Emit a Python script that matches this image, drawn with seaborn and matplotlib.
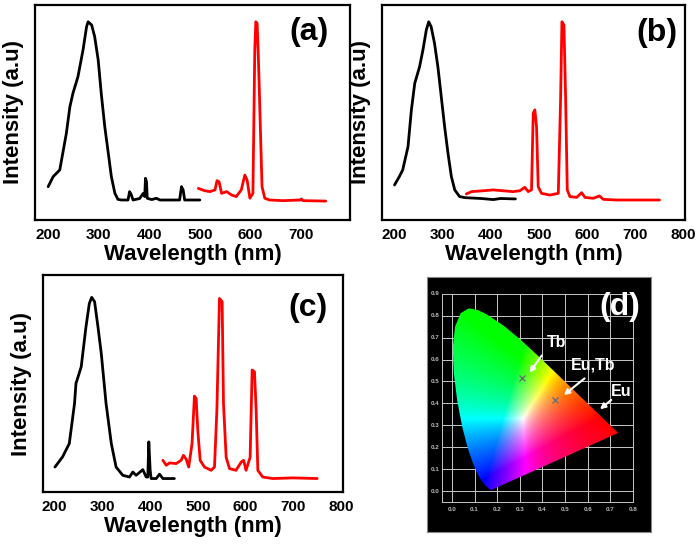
import numpy as np
import matplotlib
matplotlib.use("Agg")
import matplotlib.pyplot as plt
from matplotlib.patches import Polygon
import seaborn as sns

# ---- spectra (wavelength nm, intensity a.u.) ----
a_exc_wl = [200, 210, 223, 236, 243, 249, 259, 269, 276, 279, 286, 292, 299, 305, 312, 319, 325, 332, 338, 345,
            358, 361, 364, 368, 381, 388, 391, 392.5, 394.5, 396, 405, 414, 421, 460, 463.7, 467, 470, 500]
a_exc_int = [0.155, 0.202, 0.233, 0.403, 0.527, 0.589, 0.667, 0.791, 0.899, 0.922, 0.907, 0.853, 0.744, 0.589,
             0.434, 0.31, 0.202, 0.124, 0.096, 0.093,
             0.093, 0.132, 0.12, 0.093, 0.1, 0.124, 0.109, 0.194, 0.178, 0.101, 0.095, 0.101, 0.093, 0.093,
             0.155, 0.14, 0.093, 0.093]
a_em_wl = [497, 510, 520, 530, 534, 538, 543, 553, 563, 572, 582, 589, 593.5, 599, 605, 608.7, 610.7, 613.3,
           615.3, 617.3, 620, 623, 628.5, 638, 665, 698, 701, 704, 749]
a_em_int = [0.147, 0.136, 0.132, 0.14, 0.183, 0.178, 0.124, 0.132, 0.116, 0.109, 0.14, 0.209, 0.186, 0.101,
            0.124, 0.791, 0.922, 0.915, 0.791, 0.636, 0.403, 0.155, 0.101, 0.093, 0.09, 0.093, 0.098, 0.09, 0.088]

b_exc_wl = [200, 210, 217, 228, 235, 242, 245, 252, 259, 266, 271, 276, 283, 290, 297, 304, 311, 318, 325,
            335, 346, 380, 405, 420, 451]
b_exc_int = [0.163, 0.202, 0.233, 0.341, 0.512, 0.636, 0.659, 0.713, 0.791, 0.884, 0.922, 0.899, 0.822,
             0.713, 0.574, 0.434, 0.31, 0.202, 0.14, 0.109, 0.104, 0.1, 0.095, 0.1, 0.098]
b_em_wl = [349, 360, 384, 405, 425, 446, 460, 470.5, 477.5, 484.4, 487.9, 491.3, 494.8, 498.3, 505, 522.5,
           540, 544.7, 547.5, 551.7, 555.1, 558.6, 564, 578, 588.4, 595.4, 612.7, 625.2, 633.5, 661, 750]
b_em_int = [0.121, 0.132, 0.136, 0.14, 0.136, 0.132, 0.136, 0.152, 0.132, 0.14, 0.496, 0.512, 0.434, 0.155,
            0.124, 0.116, 0.124, 0.558, 0.922, 0.907, 0.574, 0.14, 0.109, 0.105, 0.127, 0.105, 0.101, 0.112,
            0.096, 0.093, 0.093]

c_exc_wl = [201, 217, 231, 242, 245, 256, 266, 273, 278, 284, 291, 298, 308, 319, 329, 343, 357, 364, 371,
            385, 392, 395.4, 397.5, 400.3, 402.4, 413, 420, 427, 451]
c_exc_int = [0.115, 0.162, 0.223, 0.408, 0.5, 0.577, 0.762, 0.869, 0.897, 0.877, 0.762, 0.638, 0.408, 0.223,
             0.115, 0.077, 0.069, 0.092, 0.077, 0.103, 0.069, 0.069, 0.231, 0.1, 0.062, 0.062, 0.082, 0.062,
             0.062]
c_em_wl = [427, 434, 441, 455, 465, 470, 476, 481, 488, 493, 496.6, 500, 505, 514, 528, 535, 540, 545.4, 551,
           553.8, 559.4, 566.4, 580, 591, 596, 601, 609.6, 613.8, 618.7, 622.2, 625.7, 636, 657, 699, 750]
c_em_int = [0.146, 0.123, 0.134, 0.131, 0.146, 0.169, 0.15, 0.115, 0.223, 0.442, 0.431, 0.285, 0.146, 0.115,
            0.1, 0.115, 0.377, 0.892, 0.877, 0.408, 0.16, 0.108, 0.1, 0.138, 0.146, 0.1, 0.16, 0.562, 0.554,
            0.377, 0.1, 0.069, 0.062, 0.065, 0.062]

# ---- CIE 1931 spectral locus (x, y) ----
locus_x = [0.1741, 0.1714, 0.1644, 0.1566, 0.1440, 0.1241, 0.1096, 0.0913, 0.0687, 0.0454, 0.0235, 0.0082,
           0.0039, 0.0139, 0.0389, 0.0743, 0.1142, 0.1547, 0.2296, 0.3016, 0.3731, 0.4441, 0.5125, 0.5752,
           0.6270, 0.6658, 0.6915, 0.7190, 0.7334, 0.7347]
locus_y = [0.0050, 0.0051, 0.0109, 0.0177, 0.0297, 0.0578, 0.0868, 0.1327, 0.2007, 0.2950, 0.4127, 0.5384,
           0.6548, 0.7502, 0.8120, 0.8338, 0.8262, 0.8059, 0.7543, 0.6923, 0.6245, 0.5547, 0.4866, 0.4242,
           0.3725, 0.3340, 0.3083, 0.2809, 0.2666, 0.2653]
points = {"Tb": (0.308, 0.515), "Eu,Tb": (0.456, 0.416)}
xticks_cie = [0.0, 0.1, 0.2, 0.3, 0.4, 0.5, 0.6, 0.7, 0.8]
yticks_cie = [0.0, 0.1, 0.2, 0.3, 0.4, 0.5, 0.6, 0.7, 0.8, 0.9]

sns.set_theme(style="white")
plt.rcParams["font.family"] = ["Liberation Sans", "DejaVu Sans"]
plt.rcParams["font.weight"] = "bold"
plt.rcParams["text.color"] = "black"
plt.rcParams["axes.labelcolor"] = "black"
plt.rcParams["xtick.color"] = "black"

fig = plt.figure(figsize=(7, 5.45), dpi=100)
W, H = 700, 545


def box(l, t, r, b):
    return [l / W, 1 - b / H, (r - l) / W, (b - t) / H]


panels = [
    (box(35, 5, 350, 220), a_exc_wl, a_exc_int, a_em_wl, a_em_int, "(a)", (0.87, 0.874), [200, 300, 400, 500, 600, 700], (174, 797)),
    (box(382, 5, 685, 220), b_exc_wl, b_exc_int, b_em_wl, b_em_int, "(b)", (0.907, 0.87), [200, 300, 400, 500, 600, 700, 800], (174, 803)),
    (box(43, 275, 343, 492), c_exc_wl, c_exc_int, c_em_wl, c_em_int, "(c)", (0.883, 0.848), [200, 300, 400, 500, 600, 700, 800], (176, 804)),
]

for rect, xw, yi, xe, ye, tag, tpos, ticks, xl in panels:
    ax = fig.add_axes(rect)
    sns.lineplot(x=xw, y=yi, ax=ax, color="black", lw=2, sort=False, estimator=None)
    sns.lineplot(x=xe, y=ye, ax=ax, color="#ff0000", lw=2, sort=False, estimator=None)
    ax.set_xlim(*xl)
    ax.set_ylim(0, 1)
    ax.set_xticks(ticks)
    ax.set_yticks([])
    ax.tick_params(axis="x", length=0, pad=6, labelsize=11, labelcolor="black")
    for lab in ax.get_xticklabels():
        lab.set_fontweight("bold")
    ax.set_xlabel("Wavelength (nm)", fontsize=16, fontweight="bold", labelpad=1, color="black")
    ax.set_ylabel("Intensity (a.u)", fontsize=16, fontweight="bold", labelpad=8, color="black")
    for s in ax.spines.values():
        s.set_linewidth(1.6)
        s.set_color("black")
    ax.text(tpos[0], tpos[1], tag, transform=ax.transAxes, fontsize=23, fontweight="bold",
            ha="center", va="center", color="black")

# ---- CIE chromaticity panel ----
axd = fig.add_axes(box(427, 277, 651, 532))
axd.set_facecolor("black")
axd.set_xlim(-0.11, 0.88)
axd.set_ylim(-0.187, 0.977)
axd.set_xticks([])
axd.set_yticks([])
for s in axd.spines.values():
    s.set_color("#888888")
    s.set_linewidth(0.8)

gx, gy = np.meshgrid(np.linspace(0.0, 0.8, 400), np.linspace(0.0, 0.9, 450))
gy_s = np.maximum(gy, 1e-3)
X = gx / gy_s
Y = np.ones_like(gx)
Z = (1 - gx - gy) / gy_s
R = 3.2406 * X - 1.5372 * Y - 0.4986 * Z
G = -0.9689 * X + 1.8758 * Y + 0.0415 * Z
B = 0.0557 * X - 0.2040 * Y + 1.0570 * Z
rgb = np.clip(np.dstack([R, G, B]), 0, None)
rgb = rgb / rgb.max(axis=2, keepdims=True)
rgb = rgb ** 0.8
img = axd.imshow(rgb, origin="lower", extent=[0, 0.8, 0, 0.9], aspect="auto", interpolation="bilinear", zorder=2)
horseshoe = Polygon(np.column_stack([locus_x, locus_y]), closed=True, transform=axd.transData,
                    facecolor="none", edgecolor="none")
axd.add_patch(horseshoe)
img.set_clip_path(horseshoe)

gc = "#c8c8c8"
for v in [-0.045] + xticks_cie:
    axd.plot([v, v], [-0.05, 0.9], color=gc, lw=0.7, zorder=1)
for v in [-0.05] + yticks_cie:
    axd.plot([-0.045, 0.8], [v, v], color=gc, lw=0.7, zorder=1)
for v in xticks_cie:
    axd.text(v, -0.085, f"{v:.1f}", color="#bbbbbb", fontsize=4.5, ha="center", va="center", fontweight="bold")
for v in yticks_cie:
    axd.text(-0.075, v, f"{v:.1f}", color="#bbbbbb", fontsize=4.5, ha="center", va="center", fontweight="bold")

for name, (px, py) in points.items():
    axd.plot(px, py, marker="x", color="#707070", ms=5, mew=1, zorder=4)

arrows = {"Tb": ((0.404, 0.629), (0.336, 0.53), (0.463, 0.68)),
          "Eu,Tb": ((0.596, 0.522), (0.485, 0.43), (0.624, 0.575)),
          "Eu": ((0.714, 0.424), (0.645, 0.365), (0.75, 0.453))}
for name, (tail, head, tp) in arrows.items():
    axd.annotate("", xy=head, xytext=tail,
                 arrowprops=dict(arrowstyle="-|>", color="white", lw=1.5, mutation_scale=8), zorder=5)
    axd.text(tp[0], tp[1], name, color="white", fontsize=11.5, fontweight="bold", ha="center", va="center", zorder=5)
axd.text(0.743, 0.84, "(d)", color="white", fontsize=23, fontweight="bold", ha="center", va="center", zorder=5)

fig.savefig("out.png", dpi=100, facecolor="white")
